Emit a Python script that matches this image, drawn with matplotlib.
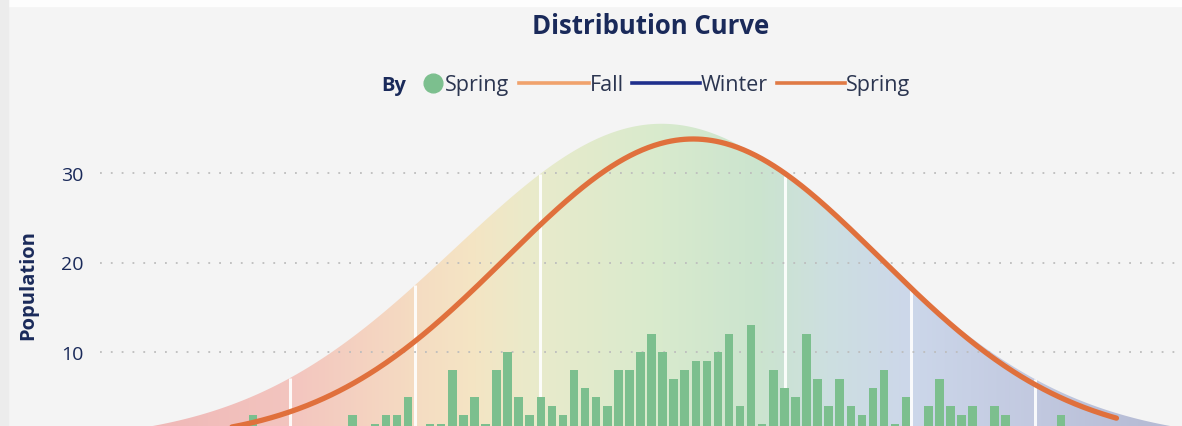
import numpy as np
import matplotlib
matplotlib.use("Agg")
import matplotlib.pyplot as plt
from matplotlib.colors import LinearSegmentedColormap
from matplotlib.lines import Line2D

# ---------------- data ----------------
bin_index = list(range(74))
population = [3, 0, 1, 0, 0, 1, 0, 1, 0, 3, 1, 2, 3, 3, 5, 1, 2, 2, 8, 3,
              5, 2, 8, 10, 5, 3, 5, 4, 3, 8, 6, 5, 4, 8, 8, 10, 12, 10, 7, 8,
              9, 9, 10, 12, 4, 13, 2, 8, 6, 5, 12, 7, 4, 7, 4, 3, 6, 8, 2, 5,
              1, 4, 7, 4, 3, 4, 1, 4, 3, 1, 0, 1, 0, 3]

# fitted distribution curve (orange) parameters
curve_peak = 33.8
curve_mean = 39.75
curve_sd = 16.9
curve_range = (-4.0, 78.0)

# background bell area parameters
area_peak = 35.5
area_mean = 36.9
area_sd = 18.7
band_edges = [3.3, 14.6, 25.9, 48.1, 59.4, 70.6]

y_ticks = [10, 20, 30]
y_label = "Population"
title = "Distribution Curve"
legend_title = "By"
legend_labels = ["Spring", "Fall", "Winter", "Spring"]

# ---------------- style ----------------
W, H = 1182, 427
NAVY = "#1a2a5a"
BAR = "#7cbf8e"
CURVE = "#e0703c"
BG = "#f4f4f4"

plt.rcParams["font.family"] = ["Open Sans", "DejaVu Sans"]
fig = plt.figure(figsize=(W / 100, H / 100), dpi=100, facecolor=BG)

def fx(px):
    return px / W

def fy(py):
    return 1 - py / H

# subtle frame strips
fig.patches.append(plt.Rectangle((0, fy(7)), 1, 7 / H, transform=fig.transFigure,
                                 color="#fdfdfd", zorder=0))
fig.patches.append(plt.Rectangle((0, 0), fx(8), 1, transform=fig.transFigure,
                                 color="#ececec", zorder=0))

ax_left, ax_right = 100, 1182
ax_top = 110
ax = fig.add_axes([fx(ax_left), 0, fx(ax_right) - fx(ax_left), fy(ax_top)])
ax.set_facecolor("none")

x_px0, x_step = 253.0, 11.07
xlim = ((ax_left - x_px0) / x_step, (ax_right - x_px0) / x_step)
y0_px, y_unit = 442.5, 8.95
ylim = ((y0_px - H) / y_unit, (y0_px - ax_top) / y_unit)
ax.set_xlim(*xlim)
ax.set_ylim(*ylim)

# background gradient bell area
xa = np.linspace(xlim[0], xlim[1], 800)
ya = area_peak * np.exp(-0.5 * ((xa - area_mean) / area_sd) ** 2)
poly = ax.fill_between(xa, ylim[0] - 5, ya, color="none", lw=0, zorder=1)

stops = [
    (-8.0, "#f0b9b8"),
    (3.3, "#f3c5bf"),
    (14.6, "#f5dcc2"),
    (20.0, "#f4e5c4"),
    (25.9, "#e8ebcb"),
    (37.0, "#d8eacd"),
    (46.0, "#cbe4cf"),
    (52.0, "#cddfe0"),
    (59.4, "#ccd7ea"),
    (70.6, "#c2c9e0"),
    (81.0, "#b6bcd5"),
]
pos = [(s[0] - xlim[0]) / (xlim[1] - xlim[0]) for s in stops]
cols = [s[1] for s in stops]
pos = [0.0] + pos + [1.0]
cols = [cols[0]] + cols + [cols[-1]]
cmap = LinearSegmentedColormap.from_list("bg", list(zip(pos, cols)))
grad = np.linspace(0, 1, 600).reshape(1, -1)
im = ax.imshow(grad, cmap=cmap, aspect="auto", extent=[xlim[0], xlim[1], ylim[0], ylim[1]],
               origin="lower", zorder=1, interpolation="bicubic")
path = poly.get_paths()[0]
im.set_clip_path(path, transform=ax.transData)

# white band separators
for e in band_edges:
    top = area_peak * np.exp(-0.5 * ((e - area_mean) / area_sd) ** 2)
    ax.plot([e, e], [ylim[0] - 1, top], color="white", lw=2.2, alpha=0.9, zorder=2,
            solid_capstyle="butt")

# grid
for t in y_ticks:
    ax.axhline(t, color="#bdbdbd", lw=1.3, linestyle=(0, (1, 5)), zorder=2.5)

# bars
ax.bar(bin_index, population, width=0.77, color=BAR, zorder=3)

# distribution curve
xc = np.linspace(curve_range[0], curve_range[1], 600)
yc = curve_peak * np.exp(-0.5 * ((xc - curve_mean) / curve_sd) ** 2)
ax.plot(xc, yc, color=CURVE, lw=3.8, solid_capstyle="round", zorder=4)

# axes cosmetics
for s in ax.spines.values():
    s.set_visible(False)
ax.set_xticks([])
ax.set_yticks(y_ticks)
ax.set_yticklabels([str(t) for t in y_ticks], fontsize=14, color=NAVY)
ax.tick_params(axis="y", length=0, pad=12)

# title and y label
fig.text(fx(651), fy(26), title, ha="center", va="center", fontsize=18.5,
         fontweight="bold", color=NAVY)
fig.text(fx(28), fy(285), y_label, ha="center", va="center", rotation=90,
         fontsize=14.5, fontweight="bold", color=NAVY)

# legend (manual)
ly = fy(84)
lty = fy(85.5)
LEG_FS = 15.5
fig.text(fx(381), lty, legend_title, ha="left", va="center", fontsize=14.5,
         fontweight="bold", color=NAVY)
fig.add_artist(Line2D([fx(433)], [ly], marker="o", markersize=13.5, color=BAR,
                      transform=fig.transFigure))
fig.text(fx(445), lty, legend_labels[0], ha="left", va="center", fontsize=LEG_FS, color="#2b3550")
leg_lines = [(519, 589, "#f0a26c"), (632, 700, "#1f2f8c"), (777, 845, "#e07a45")]
for (a, b, c), lab in zip(leg_lines, legend_labels[1:]):
    fig.add_artist(Line2D([fx(a), fx(b)], [ly, ly], color=c, lw=2.6,
                          transform=fig.transFigure))
    fig.text(fx(b + 1), lty, lab, ha="left", va="center", fontsize=LEG_FS, color="#2b3550")

fig.savefig("out.png", dpi=100, facecolor=BG)
